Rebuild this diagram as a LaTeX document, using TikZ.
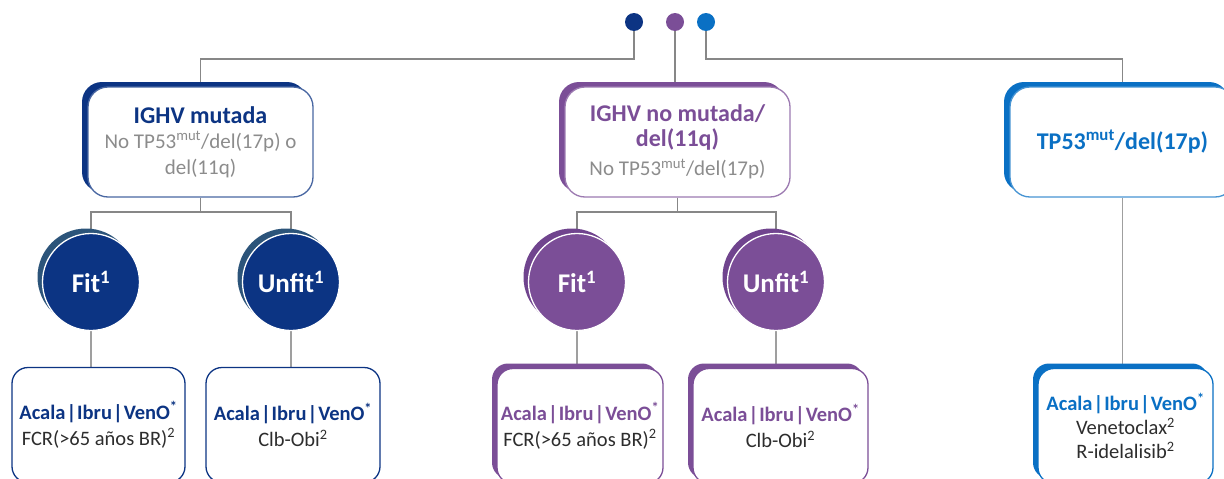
\documentclass[tikz,border=0pt]{standalone}
\usepackage{fontspec}
\setmainfont{Carlito}
\usepackage{xcolor}
\usepackage{tikz}
\usetikzlibrary{positioning, shadows, backgrounds}
\definecolor{darkblue}{RGB}{12,52,131}
\definecolor{darkshade}{RGB}{44,84,122}
\definecolor{violet}{RGB}{123,78,151}
\definecolor{violetshade}{RGB}{112,68,142}
\definecolor{lightblue}{RGB}{10,112,196}
\definecolor{graytext}{RGB}{140,140,140}
\definecolor{bodytext}{RGB}{45,45,45}
\definecolor{linegray}{RGB}{135,135,135}
\newcommand{\drugs}{Acala\kern1pt|\kern1pt Ibru\kern1pt|\kern1pt VenO\textsuperscript{*}}

\begin{document}
\begin{tikzpicture}[x=1pt, y=-1pt,
    % Node styles
    dot/.style={circle, minimum size=18pt, inner sep=0pt, fill=#1},
    groupbox/.style={rectangle, rounded corners=20pt, draw=#1!75!white, line width=1.3pt, fill=white,
        minimum width=225pt, minimum height=110pt, align=center,
        font=\fontsize{21}{26}\selectfont, text=graytext,
        general shadow={shadow xshift=-6pt, shadow yshift=5pt, fill=#1}},
    fitness/.style 2 args={circle, minimum size=97pt, inner sep=0pt, fill=#1, draw=white, line width=1.3pt,
        text=white, font=\fontsize{27}{30}\selectfont\bfseries,
        general shadow={shadow xshift=-5pt, shadow yshift=5pt, fill=#2}},
    therapy/.style={rectangle, rounded corners=16pt, draw=#1, line width=1.3pt, fill=white,
        minimum height=115pt, align=center, text=bodytext,
        font=\fontsize{20.5}{26}\selectfont},
    therapyshade/.style={therapy=#1, general shadow={shadow xshift=-5pt, shadow yshift=5pt, fill=#1}},
    % Edge styles
    link/.style={draw=linegray, line width=1.8pt},
    sublink/.style={draw=linegray!80, line width=1.5pt}
]
\useasboundingbox (0,0) rectangle (1224,479);

% Level 0 - dots
\node[dot=darkblue] (dmut) at (634,22) {};
\node[dot=violet] (dunm) at (675,22) {};
\node[dot=lightblue] (dtp) at (706,22) {};

\coordinate (bus) at (0,59);
\coordinate (split) at (0,212);

% Level 1 - groups
\node[groupbox=darkblue] (mut) at (200.5,142)
    {\textcolor{darkblue}{\fontsize{24}{26}\selectfont\bfseries IGHV mutada}\\[-1pt]
     No TP53\textsuperscript{mut}/del(17p) o\\ del(11q)};
\node[groupbox=violet] (unm) at (677.5,142)
    {\textcolor{violet}{\fontsize{24}{26}\selectfont\bfseries IGHV no mutada/}\\[-1pt]
     \textcolor{violet}{\fontsize{24}{26}\selectfont\bfseries del(11q)}\\[3pt]
     No TP53\textsuperscript{mut}/del(17p)};
\node[groupbox=lightblue] (tp) at (1122.5,142)
    {\textcolor{lightblue}{\fontsize{24}{26}\selectfont\bfseries TP53\textsuperscript{mut}/del(17p)}};

% Level 2 - fitness
\node[fitness={darkblue}{darkshade}] (fitm) at (91,282) {Fit\textsuperscript{1}};
\node[fitness={darkblue}{darkshade}] (unfitm) at (291,282) {Unfit\textsuperscript{1}};
\node[fitness={violet}{violetshade}] (fitu) at (577,282) {Fit\textsuperscript{1}};
\node[fitness={violet}{violetshade}] (unfitu) at (776,282) {Unfit\textsuperscript{1}};

% Level 3 - treatments
\node[therapy=darkblue, minimum width=173pt] (rfitm) at (98.5,425)
    {\textcolor{darkblue}{\bfseries\drugs}\\
     FCR(>65 años BR)\textsuperscript{2}};
\node[therapy=darkblue, minimum width=174pt] (runfitm) at (293,425)
    {\textcolor{darkblue}{\bfseries\drugs}\\
     Clb-Obi\textsuperscript{2}};
\node[therapyshade=violet, minimum width=166pt] (rfitu) at (580,426)
    {\textcolor{violet}{\bfseries\drugs}\\
     FCR(>65 años BR)\textsuperscript{2}};
\node[therapyshade=violet, minimum width=175pt] (runfitu) at (780.5,426)
    {\textcolor{violet}{\bfseries\drugs}\\
     Clb-Obi\textsuperscript{2}};
\node[therapyshade=lightblue, minimum width=175pt] (rtp) at (1125.5,426)
    {\textcolor{lightblue}{\bfseries\drugs}\\[-2pt]
     Venetoclax\textsuperscript{2}\\[-2pt] R-idelalisib\textsuperscript{2}};

% Draw all edges
\begin{scope}[on background layer]
\draw[link] (dmut) |- (bus -| mut) -- (mut);
\draw[link] (dunm) -- (dunm |- unm.north);
\draw[link] (dtp) |- (bus -| tp) -- (tp);

\draw[link] (mut.south) |- (split -| fitm) -- (fitm);
\draw[link] (mut.south) |- (split -| unfitm) -- (unfitm);
\draw[link] (unm.south) |- (split -| fitu) -- (fitu);
\draw[link] (unm.south) |- (split -| unfitu) -- (unfitu);

\draw[sublink] (fitm) -- (fitm |- rfitm.north);
\draw[sublink] (unfitm) -- (unfitm |- runfitm.north);
\draw[sublink] (fitu) -- (fitu |- rfitu.north);
\draw[sublink] (unfitu) -- (unfitu |- runfitu.north);
\draw[sublink] (tp) -- (tp |- rtp.north);
\end{scope}

\end{tikzpicture}
\end{document}
